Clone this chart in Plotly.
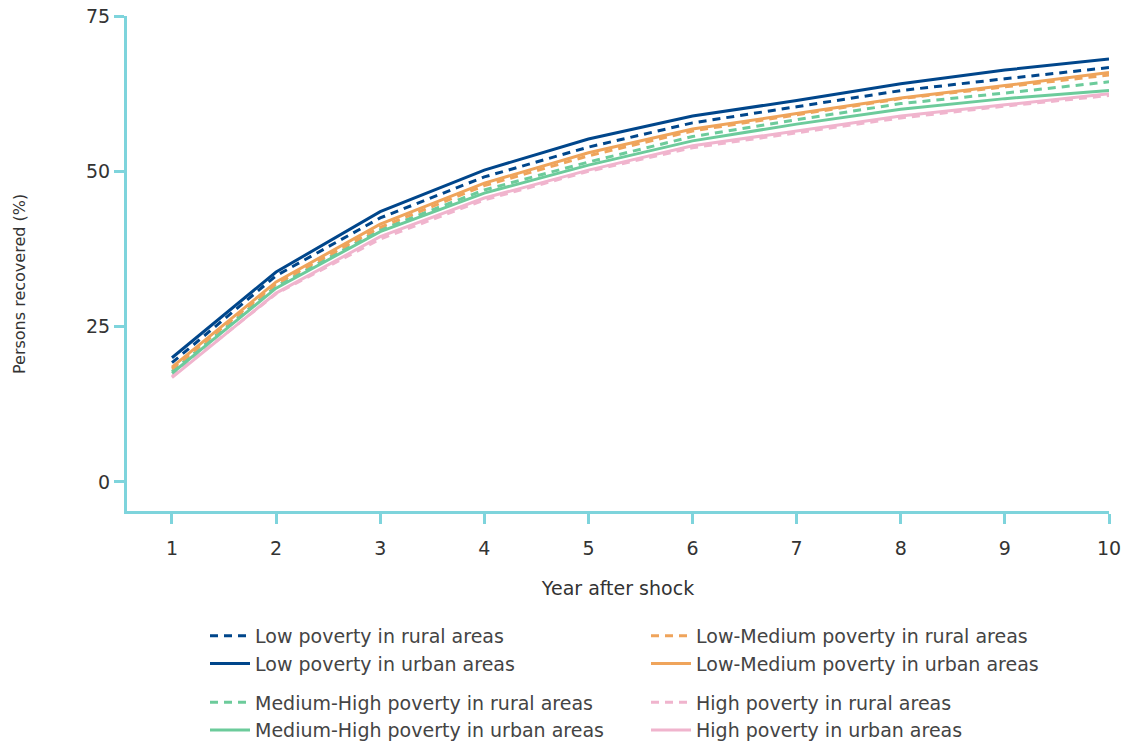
import plotly.graph_objects as go

years = [1, 2, 3, 4, 5, 6, 7, 8, 9, 10]

low_rural = [19.2, 33.2, 42.5, 49.1, 53.9, 57.8, 60.4, 63.0, 64.9, 66.7]
low_urban = [20.0, 33.8, 43.5, 50.2, 55.2, 58.9, 61.4, 64.1, 66.3, 68.1]
lowmed_rural = [18.2, 31.9, 41.0, 47.7, 52.5, 56.5, 59.1, 61.7, 63.6, 65.5]
lowmed_urban = [18.5, 32.2, 41.5, 48.1, 53.0, 56.8, 59.3, 61.8, 63.8, 65.9]
medhigh_rural = [17.8, 31.5, 40.6, 47.0, 51.5, 55.6, 58.3, 60.9, 62.6, 64.4]
medhigh_urban = [17.5, 31.2, 40.3, 46.5, 51.0, 54.9, 57.6, 60.0, 61.7, 63.0]
high_rural = [17.0, 30.3, 39.1, 45.4, 50.0, 53.8, 56.2, 58.6, 60.5, 62.2]
high_urban = [16.8, 30.4, 39.5, 45.7, 50.2, 54.1, 56.5, 58.9, 60.7, 62.5]

y_ticks = [0, 25, 50, 75]

BLUE = "#00468B"
ORANGE = "#EFA45B"
GREEN = "#6CCB9B"
PINK = "#F0B4CD"
AXIS = "#7ED4DC"
TEXT = "#333333"
DASH = "8px,6px"

series = [
    ("Low poverty in rural areas", low_rural, BLUE, DASH, "legend", "g1"),
    ("Low poverty in urban areas", low_urban, BLUE, "solid", "legend", "g1"),
    ("Medium-High poverty in rural areas", medhigh_rural, GREEN, DASH, "legend", "g2"),
    ("Medium-High poverty in urban areas", medhigh_urban, GREEN, "solid", "legend", "g2"),
    ("Low-Medium poverty in rural areas", lowmed_rural, ORANGE, DASH, "legend2", "g3"),
    ("Low-Medium poverty in urban areas", lowmed_urban, ORANGE, "solid", "legend2", "g3"),
    ("High poverty in rural areas", high_rural, PINK, DASH, "legend2", "g4"),
    ("High poverty in urban areas", high_urban, PINK, "solid", "legend2", "g4"),
]

draw_order = [7, 6, 3, 2, 5, 4, 0, 1]
names = [s[0] for s in series]

fig = go.Figure()
for i in draw_order:
    name, vals, color, dash, leg, grp = series[i]
    fig.add_trace(go.Scatter(
        x=years, y=vals, mode="lines", name=name,
        line=dict(color=color, width=3, dash=dash),
        legend=leg, legendgroup=grp,
        legendrank=names.index(name) + 1,
    ))

FAM = "DejaVu Sans, sans-serif"
font = dict(family=FAM, size=19, color=TEXT)
legfont = dict(family=FAM, size=19, color="#444444")

W, H = 1125, 745
L, R, T, B = 127, 16, 16, 234
plot_w = W - L - R
plot_h = H - T - B
plot_bottom = H - B
leg_top = 617

fig.update_layout(
    width=W, height=H,
    margin=dict(l=L, r=R, t=T, b=B, autoexpand=False),
    plot_bgcolor="white", paper_bgcolor="white",
    font=font,
    showlegend=True,
    legend=dict(
        x=(205 - L) / plot_w, y=(plot_bottom - leg_top) / plot_h, xanchor="left", yanchor="top",
        font=legfont, tracegroupgap=11, itemwidth=40, traceorder="grouped",
        bgcolor="rgba(0,0,0,0)",
    ),
    legend2=dict(
        x=(646 - L) / plot_w, y=(plot_bottom - leg_top) / plot_h, xanchor="left", yanchor="top",
        font=legfont, tracegroupgap=11, itemwidth=40, traceorder="grouped",
        bgcolor="rgba(0,0,0,0)",
    ),
    xaxis=dict(
        range=[0.568, 10], tickmode="array", tickvals=years,
        showgrid=False, zeroline=False,
        showline=True, linecolor=AXIS, linewidth=3,
        ticks="outside", ticklen=10, tickwidth=3, tickcolor=AXIS,
        ticklabelstandoff=8, automargin=False,
        title=dict(text="Year after shock", standoff=24, font=font),
        tickfont=font,
    ),
    yaxis=dict(
        range=[-4.67, 75], tickmode="array", tickvals=y_ticks,
        showgrid=False, zeroline=False,
        showline=True, linecolor=AXIS, linewidth=3,
        ticks="outside", ticklen=10, tickwidth=3, tickcolor=AXIS,
        ticklabelstandoff=0, automargin=False,
        tickfont=font,
    ),
    annotations=[dict(
        text="Persons recovered (%)", textangle=-90,
        xref="paper", yref="paper",
        x=(20 - L) / plot_w, y=(plot_bottom - 284) / plot_h,
        xanchor="center", yanchor="middle", showarrow=False,
        font=dict(family=FAM, size=16, color=TEXT),
    )],
)

fig.write_html("out.html", post_script="document.body.style.margin='0';",
               config={"displayModeBar": False})
